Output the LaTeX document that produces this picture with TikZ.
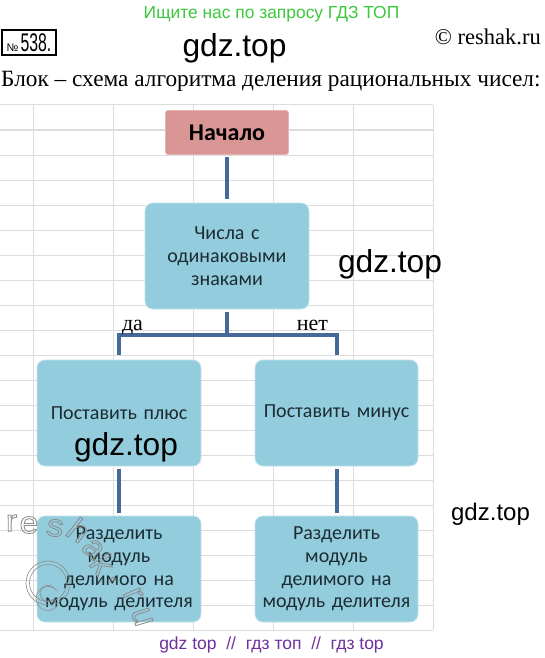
\documentclass[tikz,border=0pt]{standalone}
\usepackage{graphicx}
\usepackage{fontspec}
\usetikzlibrary{calc}
\setmainfont{Liberation Serif}
\newfontfamily\boxfont{Carlito}[WordSpace=0.8]
\newfontfamily\wmfont{Liberation Sans}
\definecolor{gridc}{HTML}{DCDCDC}
\definecolor{bluefill}{HTML}{93CDDD}
\definecolor{redfill}{HTML}{DA9694}
\definecolor{connc}{HTML}{44699A}
\definecolor{txtc}{HTML}{1C2C32}
\definecolor{greenc}{HTML}{3CC83C}
\definecolor{purplec}{HTML}{7030A0}
\definecolor{wmgray}{HTML}{8C8C8C}
\newcommand\outl[1]{\special{pdf:literal direct 0.8 w 1 Tr}#1\special{pdf:literal direct 0 Tr}}
\begin{document}
\begin{tikzpicture}[x=1pt,y=-1pt,
  gridline/.style={draw=gridc,line width=1pt},
  bluebox/.style={draw=bluefill!60!white, line width=0.8pt, fill=bluefill,
    rounded corners=8pt, text=txtc, font=\boxfont\fontsize{20}{22.8}\selectfont,
    align=center, inner sep=0pt, minimum height=106pt, minimum width=164pt, text width=160pt},
  startbox/.style={draw=redfill!70!white, line width=0.8pt, fill=redfill,
    rounded corners=2.5pt, text=black, font=\boxfont\bfseries\fontsize{24}{28}\selectfont,
    inner sep=0pt, minimum width=123pt, minimum height=44pt},
  conn/.style={draw=connc, line width=4pt},
  lbl/.style={font=\fontsize{22}{24}\selectfont, anchor=base, inner sep=0pt},
  wm/.style={font=\wmfont\fontsize{31.7}{36}\selectfont, anchor=base, inner sep=0pt, text=black},
  wmr/.style={font=\wmfont\fontsize{31}{33}\selectfont, inner sep=0pt, text=wmgray, xscale=1.1},
  wmline/.style={draw=wmgray, line width=0.6pt}
]
\useasboundingbox (0,0) rectangle (544,658);
\fill[white] (0,0) rectangle (544,658);

% header
\node[anchor=base, inner sep=0pt, text=greenc, font=\wmfont\fontsize{17.4}{19}\selectfont] (search) at (271.5,19) {Ищите нас по запросу ГДЗ ТОП};
\node[draw, line width=1.4pt, minimum width=54pt, minimum height=25pt, inner sep=0pt, font=\wmfont] (num) at (29,42.5)
  {{\fontsize{11}{11}\selectfont №}\kern2pt\scalebox{0.62}[1]{\fontsize{25.5}{25.5}\selectfont 538.}};
\node[wm] (wmtop) at (234.5,57) {gdz.top};
\node[anchor=base east, inner sep=0pt, font=\fontsize{22.5}{24}\selectfont] (copy) at (541,45) {© reshak.ru};
\node[anchor=base west, inner sep=0pt, font=\fontsize{23.3}{25}\selectfont] (title) at (1,86.5) {Блок – схема алгоритма деления рациональных чисел:};

% grid
\foreach \yy in {105,130,...,630} \draw[gridline] (0,\yy) -- (433,\yy);
\foreach \xx in {33,113,...,433} \draw[gridline] (\xx,105) -- (\xx,630);

% nodes
\node[startbox] (start) at (227,132.5) {Начало};
\node[bluebox] (q) at (227,256) {Числа с\\одинаковыми\\знаками};
\node[bluebox] (plus) at (119,413) {Поставить плюс};
\node[bluebox, minimum width=163pt] (minus) at (336.5,413) {Поставить минус};
\node[bluebox] (div1) at (119,569) {Разделить\\модуль\\делимого на\\модуль делителя};
\node[bluebox, minimum width=163pt] (div2) at (336.5,569) {Разделить\\модуль\\делимого на\\модуль делителя};

% connectors
\coordinate (j) at (227,335);
\draw[conn, shorten <=2.5pt, shorten >=4pt] (start) -- (q);
\draw[conn, shorten <=3pt] (q) -- (j);
\draw[conn, shorten >=5pt] (j) -| (plus);
\draw[conn, shorten >=5pt] (j) -| (minus);
\draw[conn, shorten <=3pt, shorten >=3pt] (plus) -- (div1);
\draw[conn, shorten <=3pt, shorten >=3pt] (minus) -- (div2);

\node[lbl] (da) at (132.5,330) {да};
\node[lbl] (net) at (312.5,330) {нет};

% watermarks
\node[wm] (wmmid) at (390,272.5) {gdz.top};
\node[wm] (wmleft) at (126,455) {gdz.top};
\node[wm, font=\wmfont\fontsize{24}{26}\selectfont] (wmright) at (490.5,520) {gdz.top};
\node[anchor=base, inner sep=0pt, text=purplec, font=\wmfont\fontsize{17.5}{19}\selectfont] (wmbottom) at (271.5,649.5) {gdz top \ // \ гдз топ \ // \ гдз top};

% reshak watermark
\node[wmr] (r1) at (11.5,523) {\outl{r}};
\node[wmr] (r2) at (29,525) {\outl{e}};
\node[wmr, rotate=-8] (r3) at (55,528) {\outl{s}};
\node[wmr, rotate=-35] (r4) at (79,530) {\outl{h}};
\node[wmr, rotate=-45] (r5) at (93,549) {\outl{a}};
\node[wmr, rotate=-55] (r6) at (103,564) {\outl{k}};
\node[wmr, rotate=-60] (r7) at (113,579) {\outl{.}};
\node[wmr, rotate=-65] (r8) at (133,594) {\outl{r}};
\node[wmr, rotate=-72] (r9) at (142,617) {\outl{u}};
\coordinate (cc) at (48,583);
\draw[wmline] (cc) circle[radius=22pt];
\draw[wmline] (cc) circle[radius=18.5pt];
\draw[wmline] ($(cc)+(40:12)$) arc[start angle=40, end angle=320, radius=12pt];
\draw[wmline] ($(cc)+(40:8)$) arc[start angle=40, end angle=320, radius=8pt];
\end{tikzpicture}
\end{document}
